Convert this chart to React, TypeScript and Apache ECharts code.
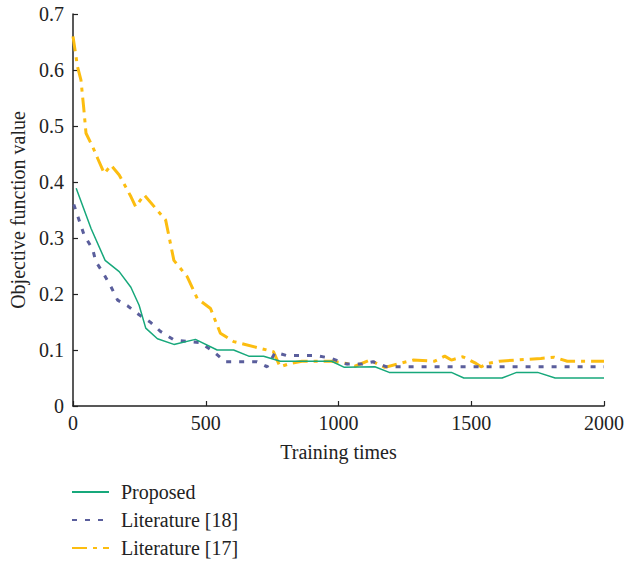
import React, { useEffect, useRef } from "react";
import * as echarts from "echarts";

const xTicks = [0, 500, 1000, 1500, 2000];
const yTicks = [0, 0.1, 0.2, 0.3, 0.4, 0.5, 0.6, 0.7];

const proposedX = [12, 68, 121, 174, 218, 249, 274, 318, 380, 461, 543, 605, 662, 718, 781, 974, 1022, 1137, 1191, 1425, 1472, 1616, 1671, 1750, 1816, 2000];
const proposedY = [0.389, 0.317, 0.26, 0.24, 0.212, 0.18, 0.139, 0.12, 0.11, 0.119, 0.1, 0.1, 0.089, 0.089, 0.08, 0.08, 0.069, 0.07, 0.06, 0.06, 0.05, 0.05, 0.06, 0.06, 0.05, 0.05];

const lit18X = [3, 42, 74, 86, 118, 143, 168, 205, 249, 293, 330, 380, 480, 530, 574, 693, 731, 762, 806, 918, 974, 1031, 1090, 1131, 1181, 2000];
const lit18Y = [0.36, 0.305, 0.28, 0.258, 0.234, 0.213, 0.189, 0.179, 0.163, 0.149, 0.133, 0.118, 0.113, 0.097, 0.079, 0.079, 0.07, 0.096, 0.09, 0.09, 0.085, 0.075, 0.075, 0.079, 0.07, 0.07];

const lit17X = [0, 17, 30, 40, 49, 74, 93, 118, 143, 174, 218, 236, 268, 349, 380, 430, 468, 518, 555, 605, 705, 755, 780, 818, 862, 974, 1031, 1062, 1118, 1174, 1281, 1362, 1400, 1425, 1468, 1518, 1537, 1562, 1606, 1762, 1812, 1862, 2000];
const lit17Y = [0.66, 0.606, 0.582, 0.534, 0.487, 0.463, 0.442, 0.415, 0.43, 0.4125, 0.374, 0.356, 0.377, 0.332, 0.26, 0.231, 0.192, 0.174, 0.13, 0.115, 0.103, 0.097, 0.07, 0.076, 0.08, 0.08, 0.076, 0.071, 0.082, 0.069, 0.082, 0.08, 0.089, 0.082, 0.088, 0.076, 0.07, 0.076, 0.08, 0.085, 0.087, 0.08, 0.08];

const seriesNames = ["Proposed", "Literature [18]", "Literature [17]"];
const colors = ["#17a87b", "#5a5e9c", "#fcbd10"];

const zip = (xs: number[], ys: number[]) => xs.map((x, i) => [x, ys[i]]);

const FONT = "'Liberation Serif', 'Times New Roman', serif";
const FS = 20;
const TXT = "#222";

export default function App() {
  const ref = useRef<HTMLDivElement>(null);
  useEffect(() => {
    if (!ref.current) return;
    const chart = echarts.init(ref.current, null, { renderer: "svg" });
    chart.setOption({
      animation: false,
      backgroundColor: "#ffffff",
      textStyle: { fontFamily: FONT },
      grid: { left: 72, right: 22, top: 14, bottom: 157 },
      legend: {
        orient: "vertical",
        left: 71,
        top: 482,
        padding: 0,
        itemGap: 8,
        itemWidth: 37,
        itemHeight: 12,
        itemStyle: { opacity: 0 },
        textStyle: { fontFamily: FONT, fontSize: FS, color: TXT, padding: [0, 0, 0, 7] },
        data: seriesNames,
      },
      xAxis: {
        type: "value",
        min: xTicks[0],
        max: xTicks[xTicks.length - 1],
        interval: 500,
        name: "Training times",
        nameLocation: "middle",
        nameGap: 36,
        nameTextStyle: { fontFamily: FONT, fontSize: FS, color: TXT },
        axisLine: { show: true, lineStyle: { color: TXT, width: 1.5 } },
        axisTick: { show: true, inside: true, length: 5, lineStyle: { color: TXT, width: 1.2 } },
        axisLabel: { fontFamily: FONT, fontSize: FS, color: TXT, margin: 7, formatter: (v: number) => String(v) },
        splitLine: { show: false },
      },
      yAxis: {
        type: "value",
        min: yTicks[0],
        max: yTicks[yTicks.length - 1],
        interval: 0.1,
        name: "Objective function value",
        nameLocation: "middle",
        nameGap: 45,
        nameTextStyle: { fontFamily: FONT, fontSize: FS, color: TXT },
        axisLine: { show: true, lineStyle: { color: TXT, width: 1.5 } },
        axisTick: { show: true, inside: true, length: 5, lineStyle: { color: TXT, width: 1.2 } },
        axisLabel: { fontFamily: FONT, fontSize: FS, color: TXT, margin: 9, formatter: (v: number) => (v === 0 ? "0" : v.toFixed(1)) },
        splitLine: { show: false },
      },
      series: [
        {
          name: seriesNames[0],
          type: "line",
          data: zip(proposedX, proposedY),
          showSymbol: false,
          symbol: "none",
          color: colors[0],
          lineStyle: { color: colors[0], width: 1.5 },
          z: 4,
        },
        {
          name: seriesNames[1],
          type: "line",
          data: zip(lit18X, lit18Y),
          showSymbol: false,
          symbol: "none",
          color: colors[1],
          lineStyle: { color: colors[1], width: 3, type: [5, 8] },
          z: 3,
        },
        {
          name: seriesNames[2],
          type: "line",
          data: zip(lit17X, lit17Y),
          showSymbol: false,
          symbol: "none",
          color: colors[2],
          lineStyle: { color: colors[2], width: 3, type: [15, 6, 4, 6] },
          z: 2,
        },
      ],
    });
    return () => chart.dispose();
  }, []);
  return <div ref={ref} style={{ width: 627, height: 563, position: "absolute", left: 0, top: 0 }} />;
}
